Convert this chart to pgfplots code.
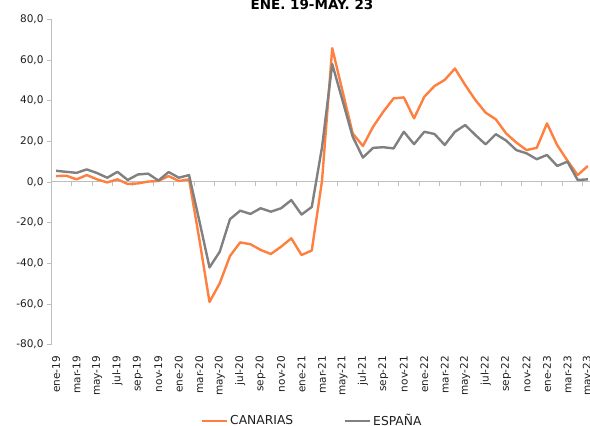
\documentclass[border=0pt]{standalone}
\usepackage{pgfplots}
\pgfplotsset{compat=1.18}
\usepackage{pgfplotstable}
\usepackage{fontspec}
\setmainfont{DejaVu Sans}
\definecolor{canor}{RGB}{255,127,63}
\definecolor{espgr}{RGB}{128,128,128}
\definecolor{axgr}{RGB}{190,190,190}
\definecolor{txt}{RGB}{30,30,30}

\pgfplotstableread{
i can esp
0 2.9 5.5
1 3.1 5.0
2 1.3 4.5
3 3.4 6.2
4 1.3 4.4
5 -0.2 2.1
6 1.3 5.0
7 -1.0 1.0
8 -0.7 3.7
9 0.2 4.1
10 0.5 0.7
11 2.9 4.9
12 0.5 2.1
13 1.3 3.4
14 -28.0 -19.0
15 -59.0 -42.0
16 -49.8 -34.3
17 -36.4 -18.3
18 -29.7 -14.1
19 -30.6 -15.7
20 -33.4 -12.9
21 -35.4 -14.6
22 -31.8 -12.9
23 -27.7 -8.9
24 -35.9 -16.0
25 -33.7 -12.3
26 0.5 17.0
27 65.8 58.0
28 44.8 40.2
29 23.9 22.3
30 17.7 12.0
31 27.2 16.8
32 34.6 17.1
33 41.1 16.5
34 41.6 24.7
35 31.3 18.6
36 41.9 24.7
37 47.2 23.6
38 50.2 18.2
39 55.8 24.7
40 47.7 28.0
41 40.3 23.1
42 34.1 18.5
43 30.8 23.5
44 23.9 20.4
45 19.4 15.7
46 15.7 14.1
47 16.8 11.2
48 28.8 13.3
49 18.1 7.9
50 10.5 10.0
51 3.4 1.0
52 7.9 1.3
}\datatable

\begin{document}
\begin{tikzpicture}
\pgfplotsset{common/.style={scale only axis, width=542pt, height=325.4pt,
  xmin=-0.5, xmax=52.5, ymin=-80, ymax=80, clip=false}}
% zero line with boundary ticks
\begin{axis}[common, axis x line*=middle, axis y line=none,
  xtick={-0.5,1.5,...,51.5}, xticklabels={},
  tick align=outside, major tick length=4pt,
  x axis line style={draw=axgr, line width=1pt},
  x tick style={draw=axgr, line width=0.8pt}]
\end{axis}
% main axis
\begin{axis}[common, axis x line*=bottom, axis y line*=left,
  x axis line style={draw=none},
  xtick={0,2,...,52},
  xticklabels={ene-19,mar-19,may-19,jul-19,sep-19,nov-19,ene-20,mar-20,may-20,jul-20,sep-20,nov-20,ene-21,mar-21,may-21,jul-21,sep-21,nov-21,ene-22,mar-22,may-22,jul-22,sep-22,nov-22,ene-23,mar-23,may-23},
  x tick style={draw=none},
  xticklabel style={rotate=90, anchor=east, inner sep=0pt, text=txt,
    font=\fontsize{10.5}{12}\selectfont},
  xticklabel shift=7pt,
  ytick={-80,-60,...,80},
  tick align=outside, major tick length=4pt,
  y tick style={draw=axgr, line width=0.8pt},
  y axis line style={draw=axgr, line width=1pt},
  yticklabel style={text=txt, font=\fontsize{10.5}{12}\selectfont,
    /pgf/number format/.cd, fixed, fixed zerofill, precision=1, use comma, assume math mode=true},
  legend style={at={(axis description cs:0.2768,-0.233)}, anchor=west,
    draw=none, fill=none, inner sep=0pt, legend columns=2,
    font=\fontsize{12.3}{14}\selectfont, text=txt,
    /tikz/every even column/.append style={column sep=49pt}},
  legend image code/.code={\draw[#1, line width=2pt] (0pt,0pt) -- (25pt,0pt);},
  legend cell align=left]
\addplot[canor, line width=2.4pt, line join=round] table[x=i, y=can]{\datatable};
\addlegendentry{CANARIAS}
\addplot[espgr, line width=2.4pt, line join=round] table[x=i, y=esp]{\datatable};
\addlegendentry{ESPAÑA}
\node[anchor=base, font=\bfseries\fontsize{13.5}{15}\selectfont, yshift=9.3pt]
  at (axis description cs:0.4815,1) {ENE. 19-MAY. 23};
\coordinate (BL) at (rel axis cs:0,0);
\coordinate (TR) at (rel axis cs:1,1);
\end{axis}
\pgfresetboundingbox
\path[use as bounding box] ([shift={(-51pt,-81.3pt)}]BL) rectangle ([shift={(-3pt,19.3pt)}]TR);
\end{tikzpicture}
\end{document}
